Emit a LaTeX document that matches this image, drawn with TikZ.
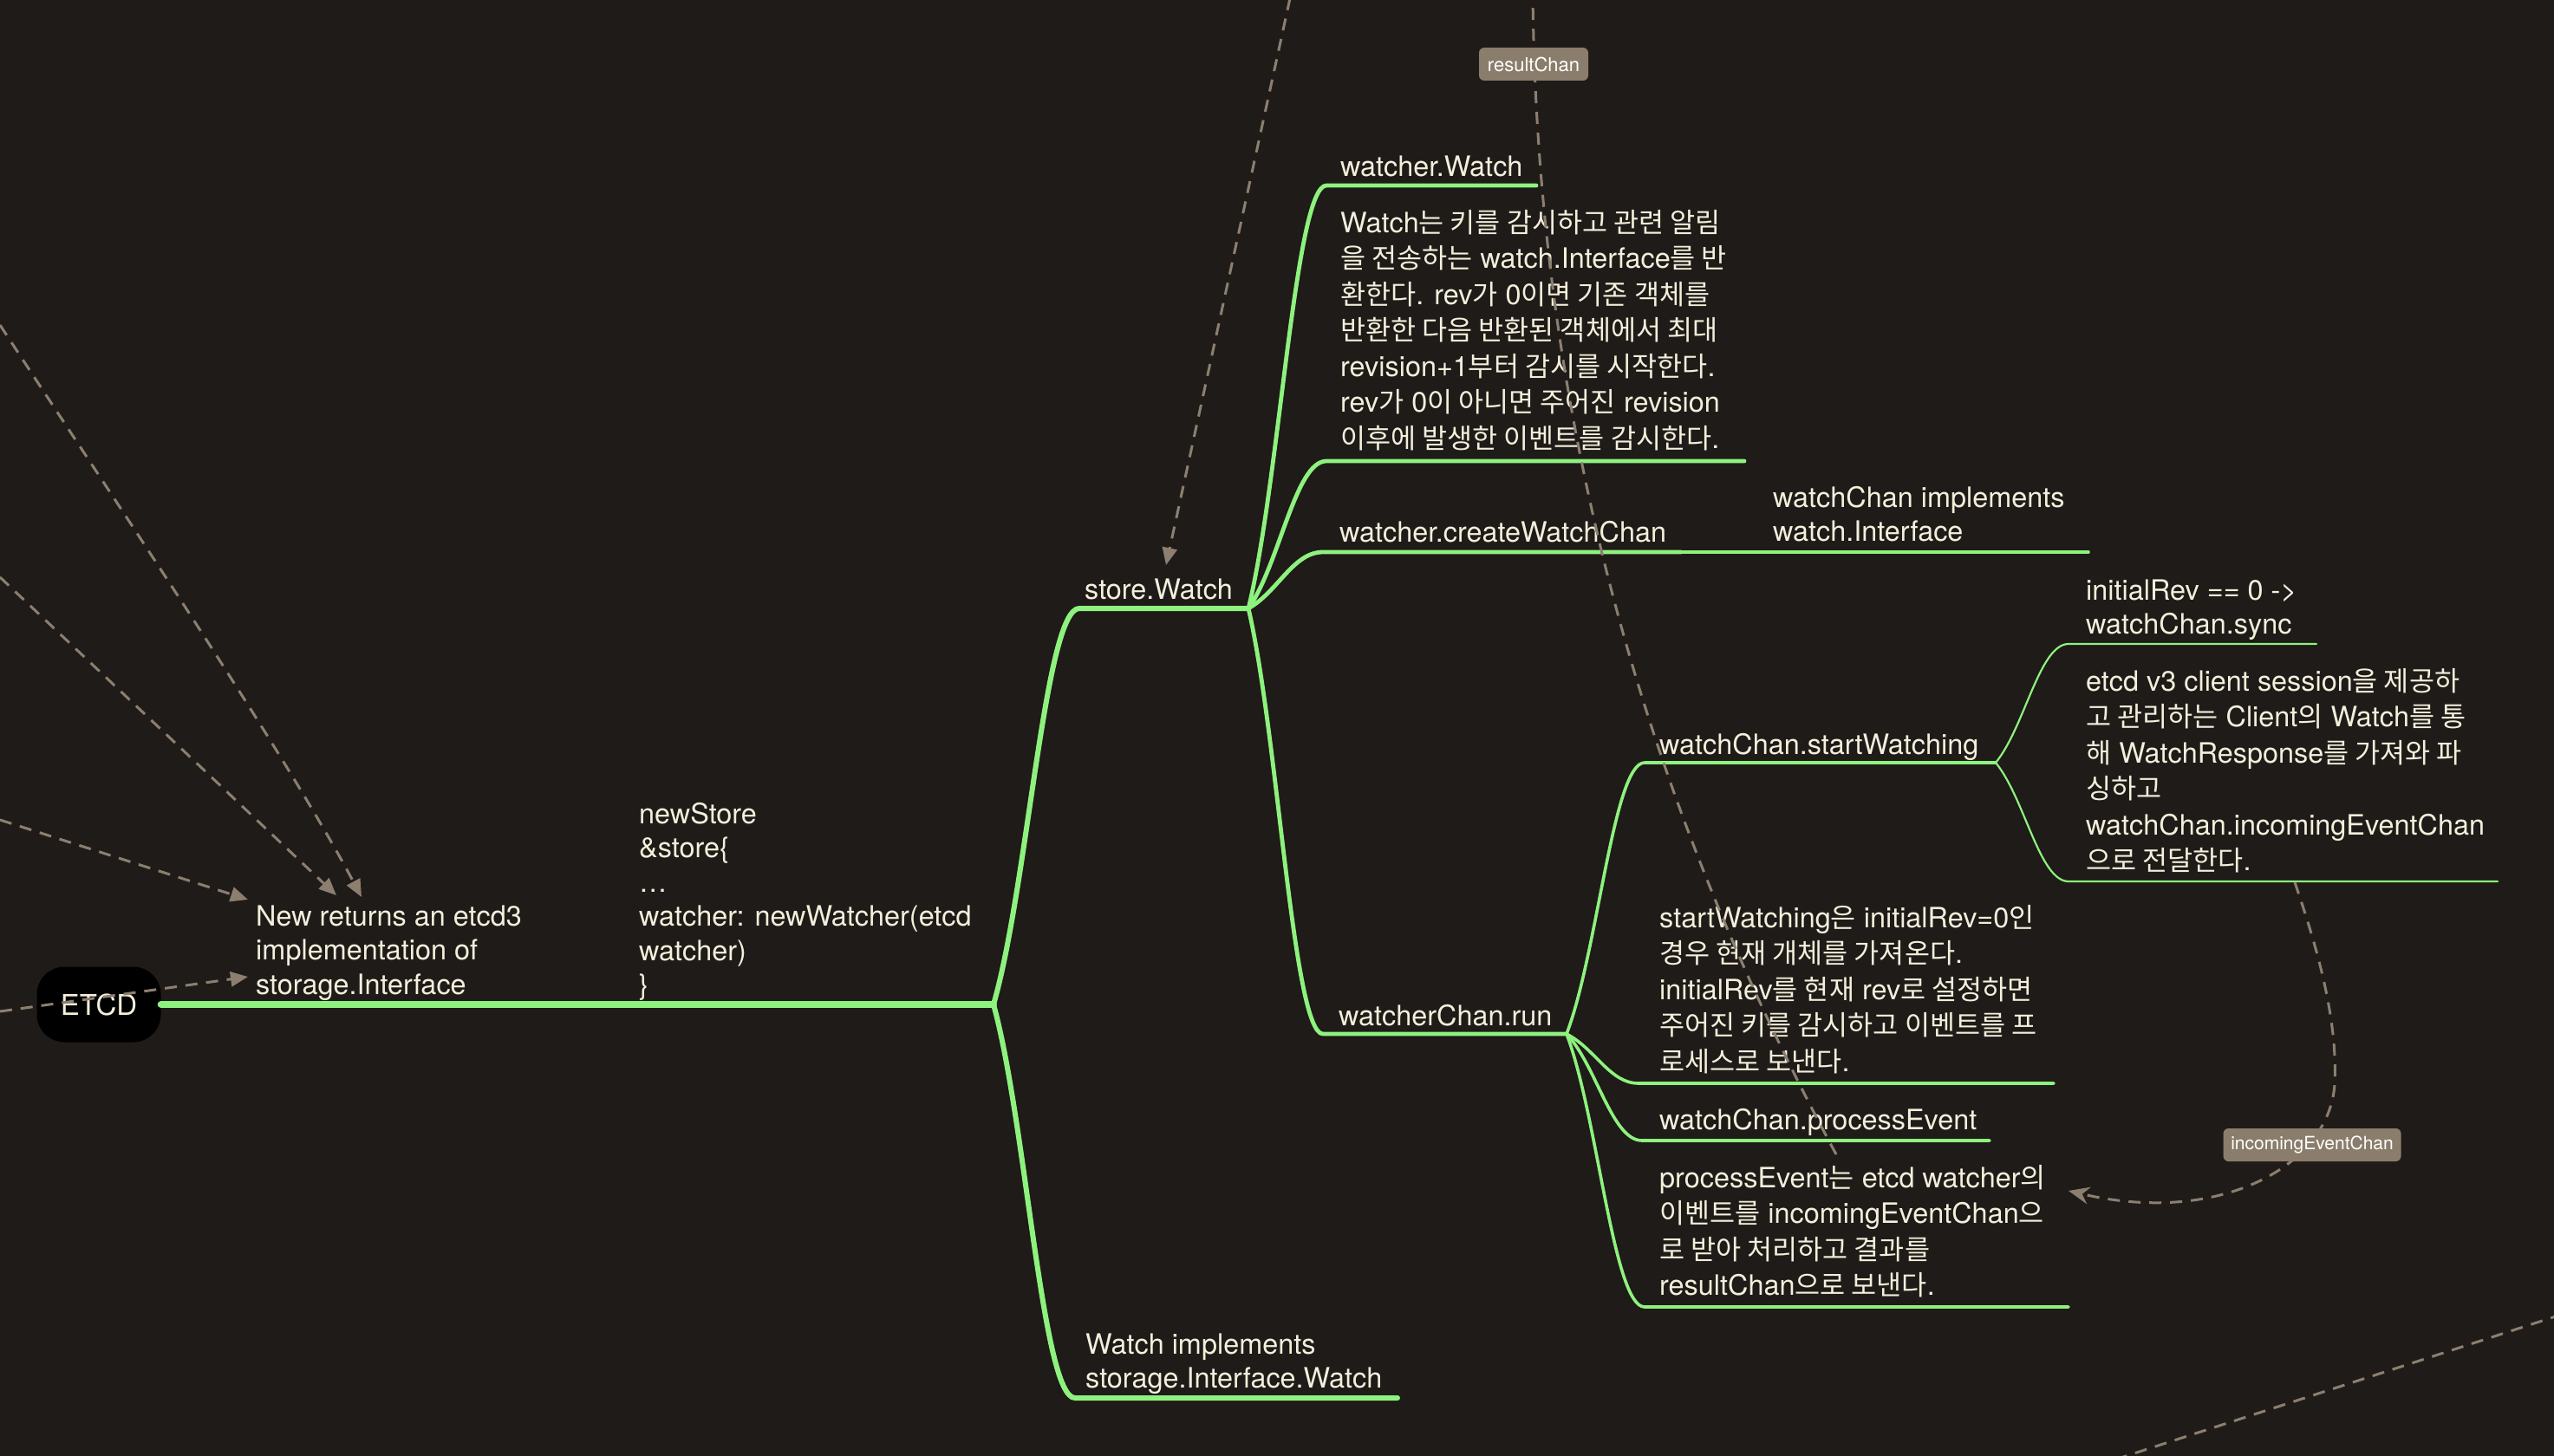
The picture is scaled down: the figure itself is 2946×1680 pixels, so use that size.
\documentclass[tikz,border=0pt]{standalone}
\usepackage{fontspec}
\setmainfont{TeX Gyre Heros}
\newfontfamily\krfont{Noto Sans CJK KR}[Scale=0.975]
\usetikzlibrary{arrows.meta,calc}
\newcommand{\hgl}[1]{{\krfont #1}}
\newcommand{\tstr}{\rule{0pt}{30pt}}
\definecolor{bgc}{HTML}{1F1B18}
\definecolor{grn}{HTML}{8EF27E}
\definecolor{txtc}{HTML}{F3EFDC}
\definecolor{relc}{HTML}{8C7F70}
\definecolor{lblc}{HTML}{8B7D6B}
\tikzset{
  txt/.style={anchor=north west, inner sep=0pt, align=left, text=txtc, font=\fontsize{32.4}{39.5}\selectfont},
  krp/.style={txt, font=\fontsize{32.4}{41.5}\selectfont},
  l0/.style={draw=grn, line width=8pt, line cap=round},
  l1/.style={draw=grn, line width=6pt, line cap=round},
  l2/.style={draw=grn, line width=4.8pt, line cap=round},
  l3/.style={draw=grn, line width=3.6pt, line cap=round},
  l4/.style={draw=grn, line width=2.2pt, line cap=round},
  brc/.style={to path={let \p1=(\tikztostart), \p2=(\tikztotarget) in
     .. controls ({\x1+0.4*(\x2-\x1)},{\y1+0.3*(\y2-\y1)}) and ({\x1+0.6*(\x2-\x1)},\y2) .. (\tikztotarget) \tikztonodes}},
  rel/.style={draw=relc, line width=3pt, dash pattern=on 14pt off 10pt},
  tri/.style={-{Triangle[length=20pt,width=17pt]}},
  stl/.style={-{Stealth[length=24pt,width=20pt]}},
  lbl/.style={fill=lblc, text=white, rounded corners=6pt, inner sep=0pt, minimum height=38pt, font=\fontsize{22}{26}\selectfont},
  etcdn/.style={fill=black, text=txtc, rounded corners=32pt, minimum width=143pt, minimum height=87pt, inner sep=0pt, font=\fontsize{33}{36}\selectfont}
}
\begin{document}
\begin{tikzpicture}[x=1pt,y=-1pt]
\fill[bgc] (0,0) rectangle (2946,1680);
\useasboundingbox (0,0) rectangle (2946,1680);
\clip (0,0) rectangle (2946,1680);

% branch points and underline ends
\coordinate (A) at (1146,1159);
\coordinate (B) at (1440,702);
\coordinate (C) at (1807,1193);
\coordinate (D) at (2302,880);
\coordinate (swL) at (1245,702);
\coordinate (wiL) at (1240,1613); \coordinate (wiR) at (1612,1613);
\coordinate (wwL) at (1530,214); \coordinate (wwR) at (1772,214);
\coordinate (wdL) at (1530,532); \coordinate (wdR) at (2012,532);
\coordinate (cwL) at (1526,637); \coordinate (cwR) at (1939,637); \coordinate (ciR) at (2409,637);
\coordinate (ruL) at (1526,1193);
\coordinate (saL) at (1897,880);
\coordinate (irL) at (2386,743); \coordinate (irR) at (2672,743);
\coordinate (evL) at (2386,1017); \coordinate (evR) at (2881,1017);
\coordinate (sdL) at (1890,1250); \coordinate (sdR) at (2369,1250);
\coordinate (peL) at (1894,1316); \coordinate (peR) at (2295,1316);
\coordinate (pdL) at (1897,1508); \coordinate (pdR) at (2386,1508);

% root
\node[etcdn] (etcd) at (114,1159) {ETCD};

% green branches
\draw[l0] (etcd.east) -- (A);
\draw[l1] (A) to[brc] (swL) -- (B);
\draw[l1] (A) to[brc] (wiL) -- (wiR);
\draw[l2] (B) to[brc] (wwL) -- (wwR);
\draw[l2] (B) to[brc] (wdL) -- (wdR);
\draw[l2] (B) to[brc] (cwL) -- (cwR);
\draw[l3] (cwR) -- (ciR);
\draw[l2] (B) to[brc] (ruL) -- (C);
\draw[l3] (C) to[brc] (saL) -- (D);
\draw[l3] (C) to[brc] (sdL) -- (sdR);
\draw[l3] (C) to[brc] (peL) -- (peR);
\draw[l3] (C) to[brc] (pdL) -- (pdR);
\draw[l4] (D) to[brc] (irL) -- (irR);
\draw[l4] (D) to[brc] (evL) -- (evR);

% texts
\node[txt] (newret) at (295,1038) {\tstr New returns an etcd3\\implementation of\\storage.Interface};
\node[txt] (newstore) at (737,920) {\tstr newStore\\\&store\{\\…\\watcher: newWatcher(etcd\\watcher)\\\}};
\node[txt] (storewatch) at (1251,661) {\tstr store.Watch};
\node[txt] (watchimpl) at (1252,1532) {\tstr Watch implements\\storage.Interface.Watch};
\node[txt] (ww) at (1546,173) {\tstr watcher.Watch};
\node[krp] (wd) at (1546,238) {\tstr Watch\hgl{는 키를 감시하고 관련 알림}\\
\hgl{을 전송하는} watch.Interface\hgl{를 반}\\
\hgl{환한다}. rev\hgl{가} 0\hgl{이면 기존 객체를}\\
\hgl{반환한 다음 반환된 객체에서 최대}\\
revision+1\hgl{부터 감시를 시작한다}.\\
rev\hgl{가} 0\hgl{이 아니면 주어진} revision\\
\hgl{이후에 발생한 이벤트를 감시한다}.};
\node[txt] (cw) at (1545,595) {\tstr watcher.createWatchChan};
\node[txt] (ci) at (2045,555) {\tstr watchChan implements\\watch.Interface};
\node[txt] (ru) at (1544,1153) {\tstr watcherChan.run};
\node[txt] (sa) at (1914,840) {\tstr watchChan.startWatching};
\node[txt] (ir) at (2406,662) {\tstr initialRev == 0 ->\\watchChan.sync};
\node[krp] (ev) at (2406,767) {\tstr etcd v3 client session\hgl{을 제공하}\\
\hgl{고 관리하는} Client\hgl{의} Watch\hgl{를 통}\\
\hgl{해} WatchResponse\hgl{를 가져와 파}\\
\hgl{싱하고}\\
watchChan.incomingEventChan\\
\hgl{으로 전달한다}.};
\node[krp] (sd) at (1914,1040) {\tstr startWatching\hgl{은} initialRev=0\hgl{인}\\
\hgl{경우 현재 개체를 가져온다}.\\
initialRev\hgl{를 현재} rev\hgl{로 설정하면}\\
\hgl{주어진 키를 감시하고 이벤트를 프}\\
\hgl{로세스로 보낸다}.};
\node[txt] (pe) at (1914,1273) {\tstr watchChan.processEvent};
\node[krp] (pd) at (1914,1340) {\tstr processEvent\hgl{는} etcd watcher\hgl{의}\\
\hgl{이벤트를} incomingEventChan\hgl{으}\\
\hgl{로 받아 처리하고 결과를}\\
resultChan\hgl{으로 보낸다}.};

% relationship (dashed) connectors
\coordinate (inA) at (0,375);   \coordinate (tipA) at (417,1035);
\coordinate (inB) at (0,666);   \coordinate (tipB) at (388,1033);
\coordinate (inC) at (0,946);   \coordinate (tipC) at (286,1038);
\coordinate (inD) at (0,1167);  \coordinate (tipD) at (286,1127);
\draw[rel,tri] (inA) .. controls (140,589) and (327,866) .. (tipA);
\draw[rel,tri] (inB) -- (tipB);
\draw[rel,tri] (inC) -- (tipC);
\draw[rel,tri] (inD) -- (tipD);

\coordinate (swTop) at (1488,-2); \coordinate (swTip) at (1345,652);
\draw[rel,tri] (swTop) -- (swTip);

\coordinate (rcBot) at (2118,1332); \coordinate (rcTop) at (1768,-5);
\draw[rel] (rcBot) .. controls (1880,892) and (1773,450) .. (rcTop);

\coordinate (ieStart) at (2647,1018); \coordinate (ieMid) at (2693,1250); \coordinate (ieTip) at (2386,1374);
\draw[rel,stl] (ieStart) .. controls (2668,1080) and (2697,1170) .. (ieMid)
   .. controls (2688,1345) and (2560,1415) .. (ieTip);

\coordinate (brA) at (2440,1684); \coordinate (brB) at (2960,1515);
\draw[rel] (brA) -- (brB);

% labels
\node[lbl, minimum width=126pt] (rcl) at (1769,74) {resultChan};
\node[lbl, minimum width=205pt, font=\fontsize{21}{25}\selectfont] (iel) at (2667,1321) {incomingEventChan};
\end{tikzpicture}
\end{document}
